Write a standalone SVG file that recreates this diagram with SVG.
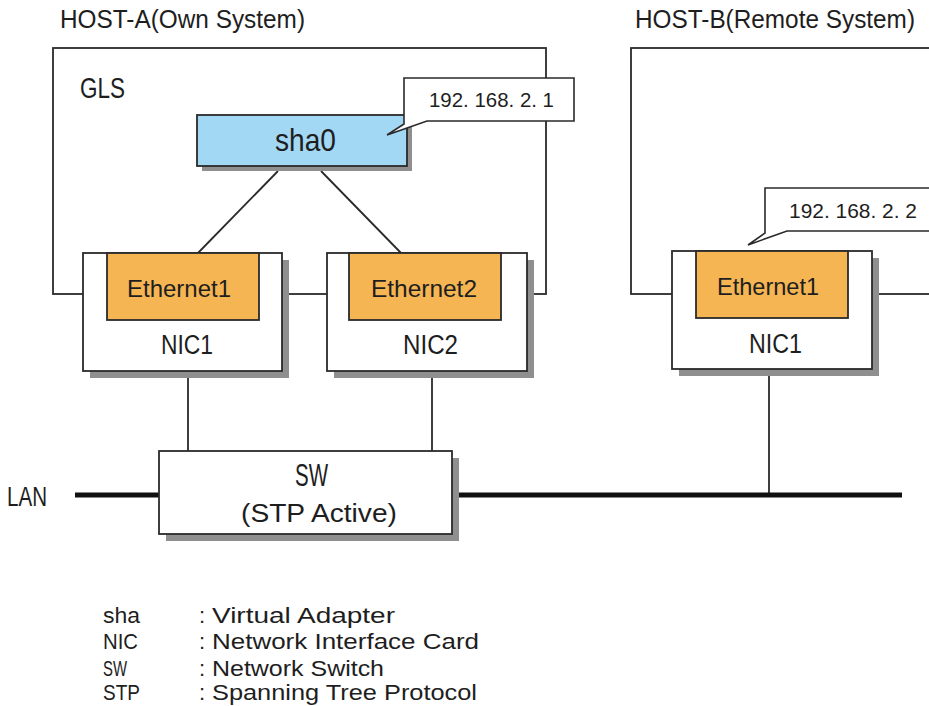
<svg xmlns="http://www.w3.org/2000/svg" width="929" height="706" viewBox="0 0 929 706">
<style>
text{font-family:"Liberation Sans",Arial,sans-serif;fill:#1e1e1e}
.frame{fill:none;stroke:#2a2a2a;stroke-width:1.8}
.box{fill:#fff;stroke:#2a2a2a;stroke-width:1.8}
.sh{fill:#8f8f8f}
.eth{fill:#f5b553;stroke:#2a2a2a;stroke-width:1.8}
.sha{fill:#a3d8f4;stroke:#2a2a2a;stroke-width:1.8}
.co{fill:#fff;stroke:#2a2a2a;stroke-width:1.6;stroke-linejoin:miter}
.ln{stroke:#2a2a2a;stroke-width:1.8;fill:none}
.lan{stroke:#111;stroke-width:5;fill:none}
</style>

<g id="host-a">
<text x="60" y="28" font-size="25" textLength="245" lengthAdjust="spacingAndGlyphs">HOST-A(Own System)</text>
<rect class="frame" x="53" y="48" width="493" height="246"/>
<text x="80" y="98" font-size="29" textLength="45" lengthAdjust="spacingAndGlyphs">GLS</text>
</g>

<g id="host-b">
<text x="635" y="28" font-size="25" textLength="280" lengthAdjust="spacingAndGlyphs">HOST-B(Remote System)</text>
<rect class="frame" x="631" y="48" width="320" height="246"/>
</g>

<g id="connectors">
<line class="ln" x1="278" y1="171" x2="198" y2="253"/>
<line class="ln" x1="321" y1="171" x2="401" y2="253"/>
<line class="ln" x1="188" y1="371" x2="188" y2="451"/>
<line class="ln" x1="432" y1="371" x2="432" y2="451"/>
<line class="ln" x1="769" y1="369" x2="769" y2="495"/>
<line class="lan" x1="75" y1="495" x2="902" y2="495"/>
</g>

<g id="sha0">
<rect class="sh" x="202" y="120" width="210" height="51"/>
<rect class="sha" x="197" y="115" width="210" height="51"/>
<text x="275" y="151" font-size="32" textLength="61" lengthAdjust="spacingAndGlyphs">sha0</text>
</g>

<g id="callout-1">
<path class="co" d="M404,78 H574 V121 H427 L387,135 L404,124 Z"/>
<text x="429" y="107" font-size="21" textLength="125" lengthAdjust="spacingAndGlyphs">192. 168. 2. 1</text>
</g>

<g id="nic1-a">
<rect class="sh" x="90" y="260" width="199" height="118"/>
<rect class="box" x="83" y="253" width="199" height="118"/>
<rect class="eth" x="107" y="253" width="152" height="67"/>
<text x="127" y="297" font-size="24" textLength="104" lengthAdjust="spacingAndGlyphs">Ethernet1</text>
<text x="161" y="354" font-size="27" textLength="52" lengthAdjust="spacingAndGlyphs">NIC1</text>
</g>

<g id="nic2-a">
<rect class="sh" x="334" y="260" width="200" height="118"/>
<rect class="box" x="327" y="253" width="200" height="118"/>
<rect class="eth" x="349" y="253" width="152" height="67"/>
<text x="371" y="297" font-size="24" textLength="106" lengthAdjust="spacingAndGlyphs">Ethernet2</text>
<text x="403" y="354" font-size="27" textLength="55" lengthAdjust="spacingAndGlyphs">NIC2</text>
</g>

<g id="callout-2">
<path class="co" d="M765,188 H940 V231 H787 L748,245 L765,233 Z"/>
<text x="789" y="218" font-size="20" textLength="128" lengthAdjust="spacingAndGlyphs">192. 168. 2. 2</text>
</g>

<g id="nic1-b">
<rect class="sh" x="679" y="258" width="200" height="118"/>
<rect class="box" x="672" y="251" width="200" height="118"/>
<rect class="eth" x="696" y="251" width="152" height="67"/>
<text x="717" y="295" font-size="24" textLength="102" lengthAdjust="spacingAndGlyphs">Ethernet1</text>
<text x="749" y="353" font-size="27" textLength="53" lengthAdjust="spacingAndGlyphs">NIC1</text>
</g>

<g id="sw">
<rect class="sh" x="166" y="458" width="293" height="83"/>
<rect class="box" x="159" y="451" width="293" height="83"/>
<text x="295" y="486" font-size="32" textLength="33" lengthAdjust="spacingAndGlyphs">SW</text>
<text x="241" y="522" font-size="26" textLength="156" lengthAdjust="spacingAndGlyphs">(STP Active)</text>
</g>

<g id="lan">
<text x="7" y="506" font-size="27" textLength="40" lengthAdjust="spacingAndGlyphs">LAN</text>
</g>

<g id="legend" font-size="22">
<text x="103" y="623" textLength="37" lengthAdjust="spacingAndGlyphs">sha</text>
<text x="199" y="623">:</text>
<text x="212" y="623" textLength="183" lengthAdjust="spacingAndGlyphs">Virtual Adapter</text>
<text x="103" y="649" textLength="35" lengthAdjust="spacingAndGlyphs">NIC</text>
<text x="199" y="649">:</text>
<text x="212" y="649" textLength="267" lengthAdjust="spacingAndGlyphs">Network Interface Card</text>
<text x="103" y="676" textLength="24" lengthAdjust="spacingAndGlyphs">SW</text>
<text x="199" y="676">:</text>
<text x="212" y="676" textLength="172" lengthAdjust="spacingAndGlyphs">Network Switch</text>
<text x="103" y="700" textLength="37" lengthAdjust="spacingAndGlyphs">STP</text>
<text x="199" y="700">:</text>
<text x="212" y="700" textLength="265" lengthAdjust="spacingAndGlyphs">Spanning Tree Protocol</text>
</g>
</svg>
